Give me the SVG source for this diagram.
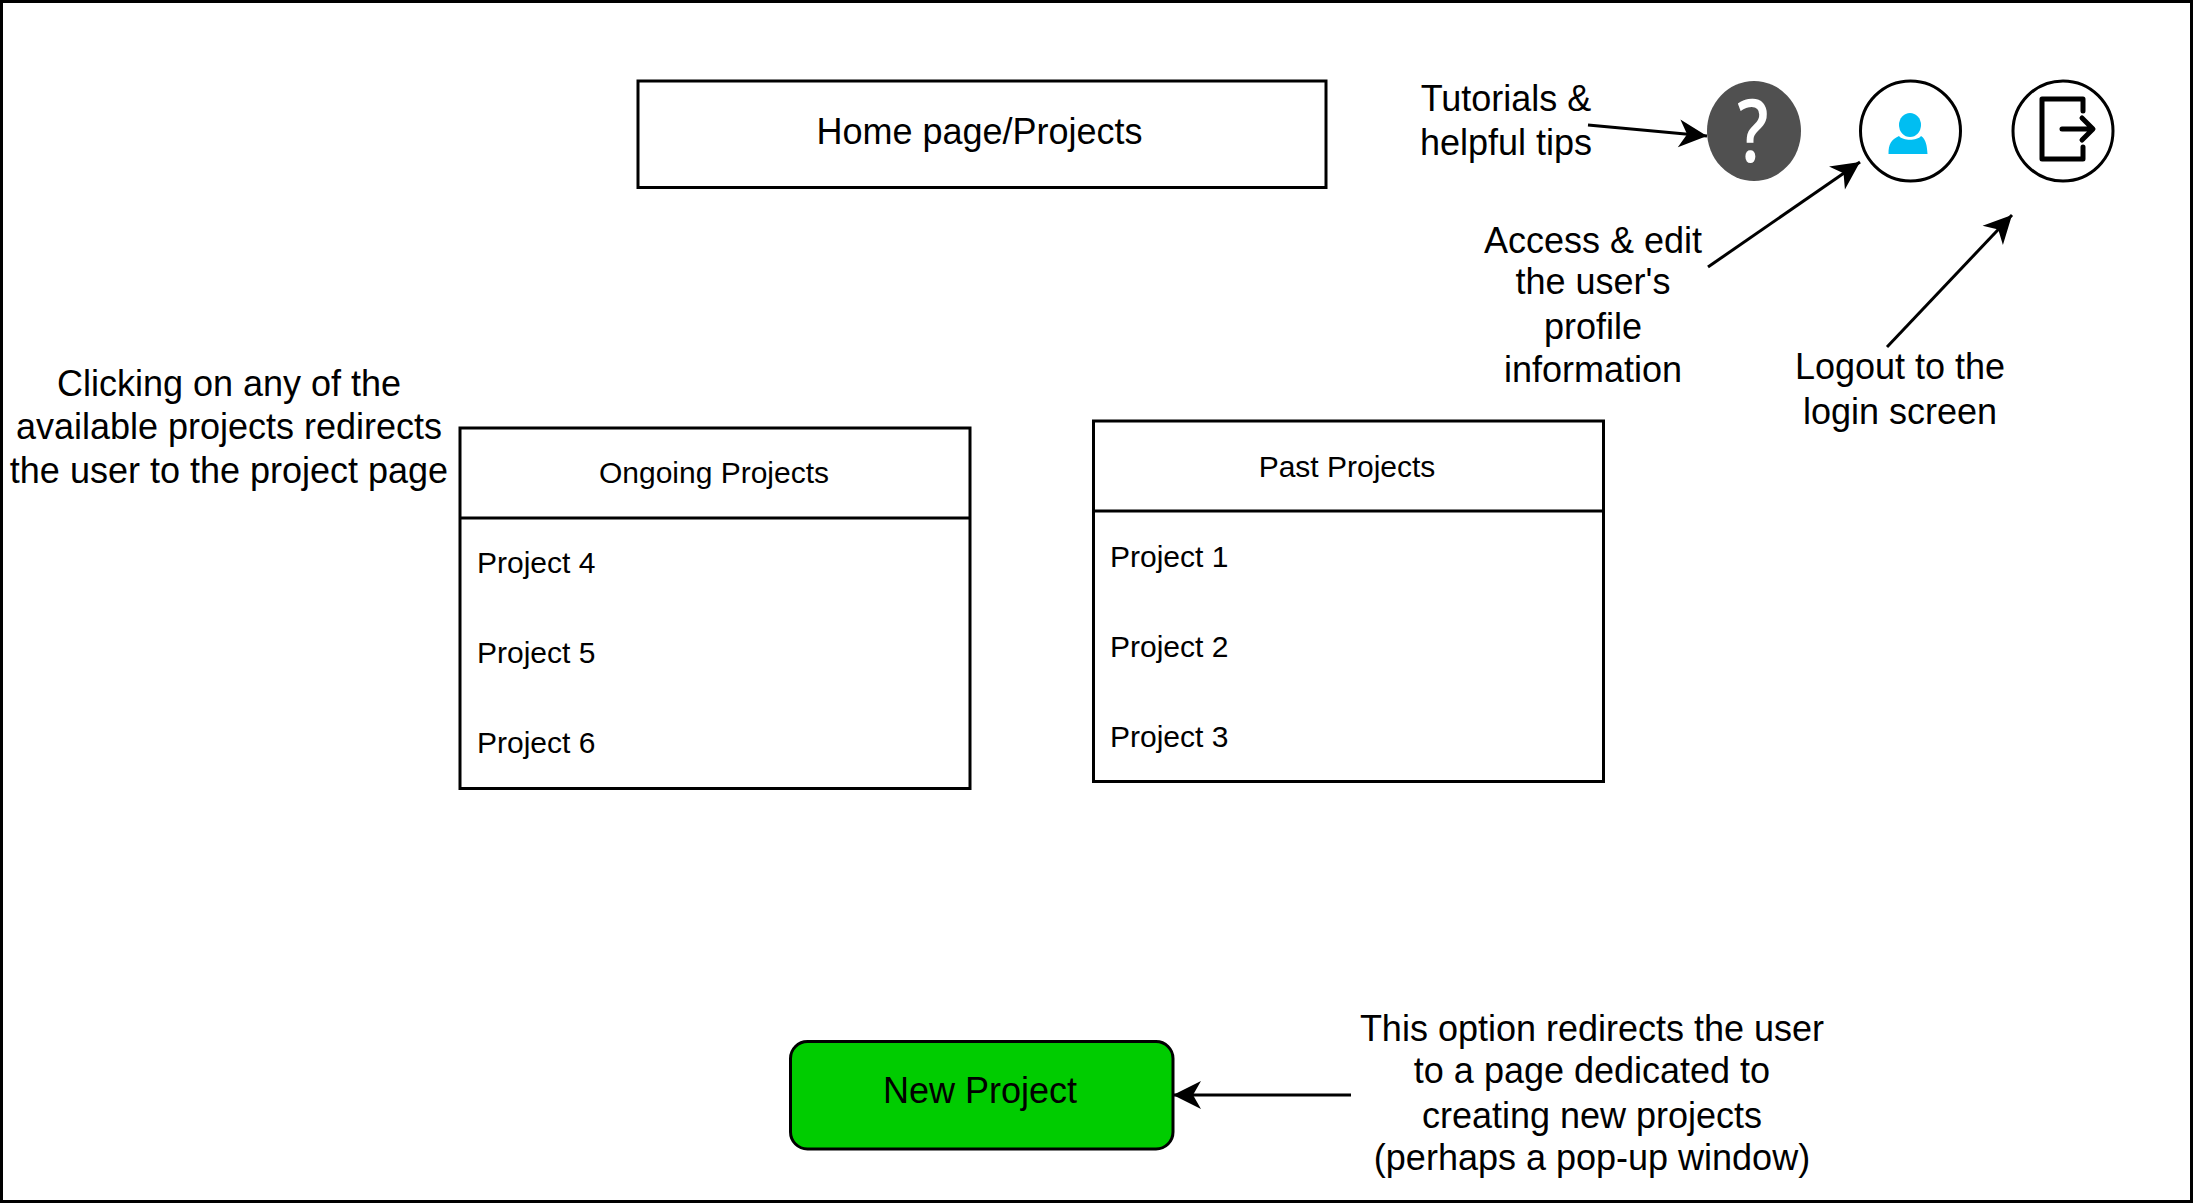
<svg xmlns="http://www.w3.org/2000/svg" width="2193" height="1203" viewBox="0 0 2193 1203">
<style>
text{font-family:"Liberation Sans",Arial,sans-serif;fill:#000}
.l{font-size:36px;text-anchor:middle}
.s{font-size:30px}
.c{text-anchor:middle}
.b{fill:#fff;stroke:#000;stroke-width:3}
.e{fill:none;stroke:#000;stroke-width:3;marker-end:url(#a)}
</style>
<defs><marker id="a" markerUnits="userSpaceOnUse" markerWidth="30" markerHeight="30" refX="28" refY="14" orient="auto" overflow="visible"><path d="M0 0L28 14L0 28L8 14Z" fill="#000"/></marker></defs>
<rect id="frame" x="1.500" y="1.500" width="2190" height="1200" fill="#fff" stroke="#000" stroke-width="3"/>
<g id="home"><rect class="b" x="638" y="81" width="688" height="106.500"/><text class="l" x="979.500" y="144">Home page/Projects</text></g>
<g id="ongoing"><rect class="b" x="460" y="428" width="510" height="360.500"/><path d="M460 518H970" stroke="#000" stroke-width="3" fill="none"/>
<text class="s c" x="714" y="483">Ongoing Projects</text><text class="s" x="477" y="573">Project 4</text><text class="s" x="477" y="663">Project 5</text><text class="s" x="477" y="753">Project 6</text></g>
<g id="past"><rect class="b" x="1093.500" y="421" width="510" height="360.500"/><path d="M1093.500 511H1603.500" stroke="#000" stroke-width="3" fill="none"/>
<text class="s c" x="1347" y="477">Past Projects</text><text class="s" x="1110" y="567">Project 1</text><text class="s" x="1110" y="657">Project 2</text><text class="s" x="1110" y="747">Project 3</text></g>
<g id="new-project"><rect x="790.500" y="1041.500" width="382.500" height="107.500" rx="17" fill="#00cc00" stroke="#000" stroke-width="3"/><text class="l" x="980" y="1103">New Project</text></g>
<g id="help"><ellipse cx="1754" cy="131" rx="47" ry="50" fill="#505050"/><text transform="translate(1753 162) scale(.8 1)" font-size="86" font-weight="600" text-anchor="middle" style="fill:#fff;font-family:'Open Sans',sans-serif">?</text></g>
<g id="user"><ellipse cx="1910.500" cy="131" rx="50" ry="50" fill="#fff" stroke="#000" stroke-width="3"/><ellipse cx="1910" cy="125" rx="11" ry="12" fill="#00bef2"/><path d="M1888.500 154C1888.500 144 1891 140 1899 136C1903 141 1917 141 1921 136C1926 139 1927 146 1927.500 154Z" fill="#00bef2"/></g>
<g id="logout"><ellipse cx="2063" cy="131" rx="50" ry="50" fill="#fff" stroke="#000" stroke-width="3"/><path d="M2083 111V99H2042V159H2083V147M2062 129H2092M2082 118L2093 129L2082 140" fill="none" stroke="#000" stroke-width="5" stroke-linejoin="round" stroke-linecap="round"/></g>
<g id="notes">
<text class="l"><tspan x="1506" y="111">Tutorials &amp;</tspan><tspan x="1506" y="155">helpful tips</tspan></text>
<text class="l"><tspan x="1593" y="253">Access &amp; edit</tspan><tspan x="1593" y="294">the user's</tspan><tspan x="1593" y="339">profile</tspan><tspan x="1593" y="382">information</tspan></text>
<text class="l"><tspan x="1900" y="379">Logout to the</tspan><tspan x="1900" y="424">login screen</tspan></text>
<text class="l"><tspan x="229" y="396">Clicking on any of the</tspan><tspan x="229" y="439">available projects redirects</tspan><tspan x="229" y="483">the user to the project page</tspan></text>
<text class="l"><tspan x="1592" y="1041">This option redirects the user</tspan><tspan x="1592" y="1083">to a page dedicated to</tspan><tspan x="1592" y="1128">creating new projects</tspan><tspan x="1592" y="1170">(perhaps a pop-up window)</tspan></text>
</g>
<g id="connectors">
<path class="e" d="M1588 125L1707 136"/>
<path class="e" d="M1708 267L1860 162"/>
<path class="e" d="M1887 347L2012 215"/>
<path class="e" d="M1351 1095H1173"/>
</g>
</svg>
